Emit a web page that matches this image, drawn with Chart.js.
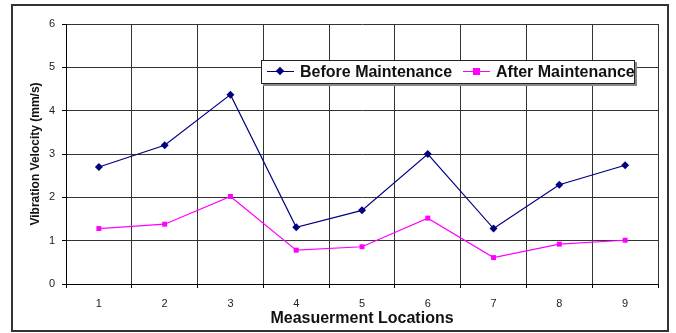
<!DOCTYPE html>
<html>
<head>
<meta charset="utf-8">
<script src="https://cdn.jsdelivr.net/npm/chart.js@4"></script>
<style>
  html, body { margin: 0; padding: 0; background: #fff; }
  #wrap { position: relative; width: 676px; height: 333px; }
  #frame { position: absolute; left: 11px; top: 4px; width: 654px; height: 324px; border: 2px solid #333; pointer-events: none; }
  #legend { position: absolute; left: 261px; top: 60px; width: 372px; height: 22px; background: #fff;
    border: 1px solid #222; box-shadow: 2px 2px 0 #888; font: bold 16px "Liberation Sans", Arial, sans-serif; color: #111; }
  .item { position: absolute; top: 2px; line-height: 18px; white-space: nowrap; }
  .sym { position: absolute; top: 10px; height: 1px; }
  .mk { position: absolute; }
</style>
</head>
<body>
<div id="wrap">
  <canvas id="c" width="676" height="333"></canvas>
  <div id="frame"></div>
  <div id="legend">
    <div class="sym" style="left:5px;width:27px;background:#000080;"></div>
    <div class="mk" style="left:15px;top:7px;width:6px;height:6px;background:#000080;transform:rotate(45deg);"></div>
    <div class="item" style="left:38px;">Before Maintenance</div>
    <div class="sym" style="left:201px;width:27px;background:#ff00ff;"></div>
    <div class="mk" style="left:211px;top:7px;width:7px;height:7px;background:#ff00ff;"></div>
    <div class="item" style="left:234px;">After Maintenance</div>
  </div>
</div>
<script>
const categories = ['1', '2', '3', '4', '5', '6', '7', '8', '9'];
const beforeMaintenance = [2.70, 3.20, 4.37, 1.31, 1.70, 3.00, 1.28, 2.29, 2.74];
const afterMaintenance = [1.28, 1.38, 2.02, 0.78, 0.86, 1.52, 0.61, 0.92, 1.01];
const yTicks = [0, 1, 2, 3, 4, 5, 6];

const FONT = '"Liberation Sans", Arial, sans-serif';

new Chart(document.getElementById('c'), {
  type: 'line',
  data: {
    labels: categories,
    datasets: [
      {
        label: 'Before Maintenance',
        data: beforeMaintenance,
        borderColor: '#000080',
        backgroundColor: '#000080',
        borderWidth: 1.2,
        pointStyle: 'rectRot',
        pointRadius: 4,
        pointBorderWidth: 0,
        tension: 0
      },
      {
        label: 'After Maintenance',
        data: afterMaintenance,
        borderColor: '#ff00ff',
        backgroundColor: '#ff00ff',
        borderWidth: 1.2,
        pointStyle: 'rect',
        pointRadius: 3.5,
        pointBorderWidth: 0,
        tension: 0
      }
    ]
  },
  options: {
    responsive: false,
    animation: false,
    layout: { padding: { left: 0, right: 18, top: 24, bottom: 0 } },
    plugins: { legend: { display: false }, tooltip: { enabled: false } },
    scales: {
      x: {
        offset: true,
        grid: { offset: true, color: '#333', lineWidth: 1, tickLength: 4, tickColor: '#000' },
        border: { color: '#000', width: 1 },
        ticks: { color: '#222', font: { family: FONT, size: 11 }, padding: 9, maxRotation: 0 },
        title: { display: true, text: 'Measuerment Locations', color: '#111',
          font: { family: FONT, size: 16, weight: 'bold' }, padding: { top: 0, bottom: 5 } },
        afterFit: (s) => { s.height = 49; }
      },
      y: {
        min: 0, max: 6,
        afterBuildTicks: (s) => { s.ticks = yTicks.map(v => ({ value: v })); },
        grid: { color: '#333', lineWidth: 1, tickLength: 4, tickColor: '#000' },
        border: { color: '#000', width: 1 },
        ticks: { color: '#222', font: { family: FONT, size: 11 }, padding: 7 },
        title: { display: true, text: 'Vibration Velocity (mm/s)', color: '#111',
          font: { family: FONT, size: 12, weight: 'bold' }, padding: { top: 28, bottom: 0 } },
        afterFit: (s) => { s.width = 66; }
      }
    }
  }
});
</script>
</body>
</html>
